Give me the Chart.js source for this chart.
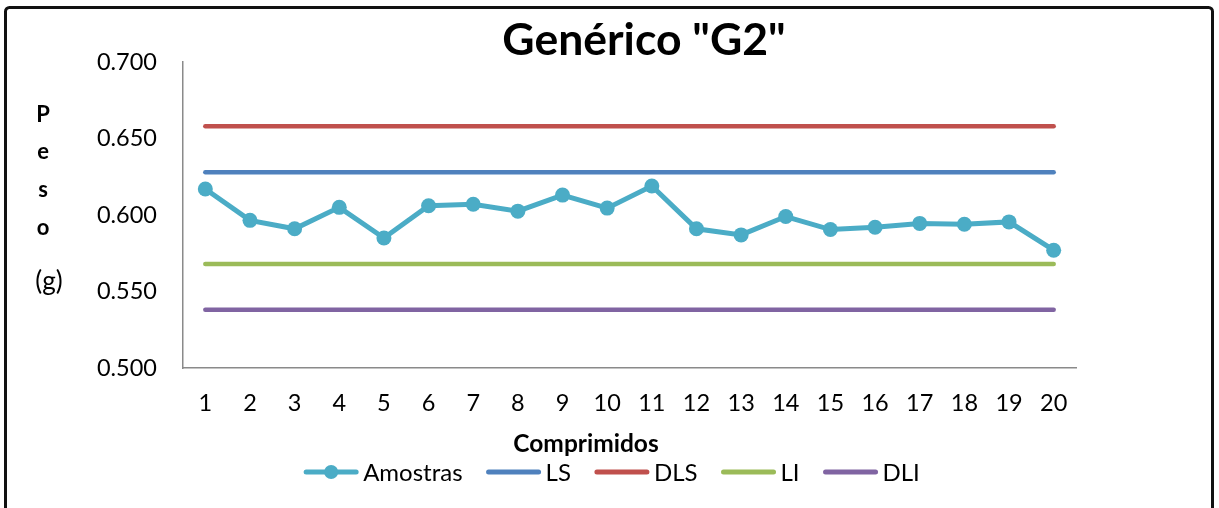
<!DOCTYPE html>
<html>
<head>
<meta charset="utf-8">
<script src="https://cdn.jsdelivr.net/npm/chart.js@4.4.1/dist/chart.umd.min.js"></script>
<style>
  html, body { margin:0; padding:0; background:#fff; }
  #wrap { position:relative; width:1219px; height:508px; }
</style>
</head>
<body>
<div id="wrap"><canvas id="chart" width="1219" height="508"></canvas></div>
<script>
// Genérico "G2" - peso dos comprimidos com limites

const chartTitle = 'Genérico "G2"';
const xTitle = 'Comprimidos';
const yTitleLetters = ['P', 'e', 's', 'o'];
const yTitleUnit = '(g)';

const categories = ['1','2','3','4','5','6','7','8','9','10','11','12','13','14','15','16','17','18','19','20'];
const amostras = [0.617, 0.5965, 0.591, 0.605, 0.585, 0.606, 0.607, 0.6025, 0.613, 0.6045,
                  0.619, 0.591, 0.587, 0.599, 0.5905, 0.592, 0.5945, 0.594, 0.5955, 0.577];

// limit lines (constant), drawn from first to last comprimido
const limitNames = ['LS', 'DLS', 'LI', 'DLI'];
const limitValues = [0.628, 0.658, 0.568, 0.538];
const limitColors = ['#4F81BD', '#C0504D', '#9BBB59', '#8064A2'];

const yTicks = [0.500, 0.550, 0.600, 0.650, 0.700];
const amostrasColor = '#4BACC6';

const FONT = 'Lato, "Liberation Sans", sans-serif';

// datasets
const datasets = [{
  label: 'Amostras',
  data: amostras,
  borderColor: amostrasColor,
  backgroundColor: amostrasColor,
  borderWidth: 5,
  pointRadius: 7.5,
  pointBorderWidth: 0,
  pointBackgroundColor: amostrasColor,
  tension: 0,
  order: 0
}];
limitNames.forEach((n, i) => {
  datasets.push({
    label: n,
    data: [{x: categories[0], y: limitValues[i]}, {x: categories[categories.length - 1], y: limitValues[i]}],
    borderColor: limitColors[i],
    backgroundColor: limitColors[i],
    borderWidth: 4.5,
    borderCapStyle: 'round',
    pointRadius: 0,
    order: 1
  });
});

// frame + titles + legend
const decor = {
  id: 'decor',
  beforeDraw(chart){
    const ctx = chart.ctx;
    ctx.save();
    ctx.fillStyle = '#fff';
    ctx.fillRect(0, 0, chart.width, chart.height);
    ctx.restore();
  },
  afterDraw(chart){
    const ctx = chart.ctx;
    ctx.save();
    // outer frame
    ctx.strokeStyle = '#111';
    ctx.lineWidth = 3;
    ctx.beginPath();
    ctx.roundRect(5.5, 7.5, 1207, 520, 4);
    ctx.stroke();

    ctx.fillStyle = '#000';
    ctx.textBaseline = 'alphabetic';
    // title
    ctx.font = 'bold 44.5px ' + FONT;
    ctx.textAlign = 'center';
    ctx.fillText(chartTitle, 644, 55);
    // x title
    ctx.font = 'bold 24.5px ' + FONT;
    ctx.fillText(xTitle, 586, 452);
    // y title letters
    ctx.font = 'bold 22px ' + FONT;
    ctx.textBaseline = 'middle';
    const ly = [115, 152, 190, 228];
    yTitleLetters.forEach((c, i) => ctx.fillText(c, 43, ly[i]));
    ctx.font = '26px ' + FONT;
    ctx.fillText(yTitleUnit, 49, 282);

    // legend
    ctx.font = '24px ' + FONT;
    ctx.textAlign = 'left';
    ctx.textBaseline = 'alphabetic';
    const items = chart.data.datasets.map(d => ({label: d.label, color: d.borderColor, marker: d.pointRadius > 0}));
    const lineLen = 54, gapText = 5, gapItem = 24;
    let total = 0;
    items.forEach((it, i) => { it.w = ctx.measureText(it.label).width; total += lineLen + gapText + it.w + (i < items.length - 1 ? gapItem : 0); });
    let x = 612 - total / 2;
    const y = 472;
    items.forEach(it => {
      ctx.strokeStyle = it.color;
      ctx.lineWidth = 5;
      ctx.lineCap = 'round';
      ctx.beginPath();
      ctx.moveTo(x + 2, y);
      ctx.lineTo(x + lineLen - 2, y);
      ctx.stroke();
      if (it.marker) {
        ctx.fillStyle = it.color;
        ctx.beginPath();
        ctx.arc(x + lineLen / 2, y, 7, 0, Math.PI * 2);
        ctx.fill();
      }
      ctx.fillStyle = '#000';
      ctx.fillText(it.label, x + lineLen + gapText, y + 8.5);
      x += lineLen + gapText + it.w + gapItem;
    });
    ctx.restore();
  }
};

function build(){
  new Chart(document.getElementById('chart'), {
    type: 'line',
    data: { labels: categories, datasets },
    options: {
      responsive: false,
      animation: false,
      layout: { padding: { left: 0, top: 62, right: 143, bottom: 0 } },
      plugins: { legend: { display: false }, title: { display: false }, tooltip: { enabled: false } },
      scales: {
        x: {
          type: 'category',
          offset: true,
          grid: { display: true, drawOnChartArea: false, drawTicks: false },
          border: { display: true, color: '#8a8a8a', width: 1.5 },
          ticks: { color: '#000', font: { family: FONT, size: 23.5 }, padding: 21, maxRotation: 0, autoSkip: false },
          afterFit(s){ s.height = 508 - 62 - 306; }
        },
        y: {
          min: 0.5,
          max: 0.7,
          afterBuildTicks(s){ s.ticks = yTicks.map(v => ({value: v})); },
          grid: { display: true, drawOnChartArea: false, drawTicks: false },
          border: { display: true, color: '#8a8a8a', width: 1.5 },
          ticks: { color: '#000', font: { family: FONT, size: 23.5 }, padding: 26, callback: v => Number(v).toFixed(3) },
          afterFit(s){ s.width = 183; }
        }
      }
    },
    plugins: [decor]
  });
}

Promise.all([
  document.fonts.load('23px Lato'),
  document.fonts.load('bold 23px Lato')
]).then(build, build);
</script>
</body>
</html>
